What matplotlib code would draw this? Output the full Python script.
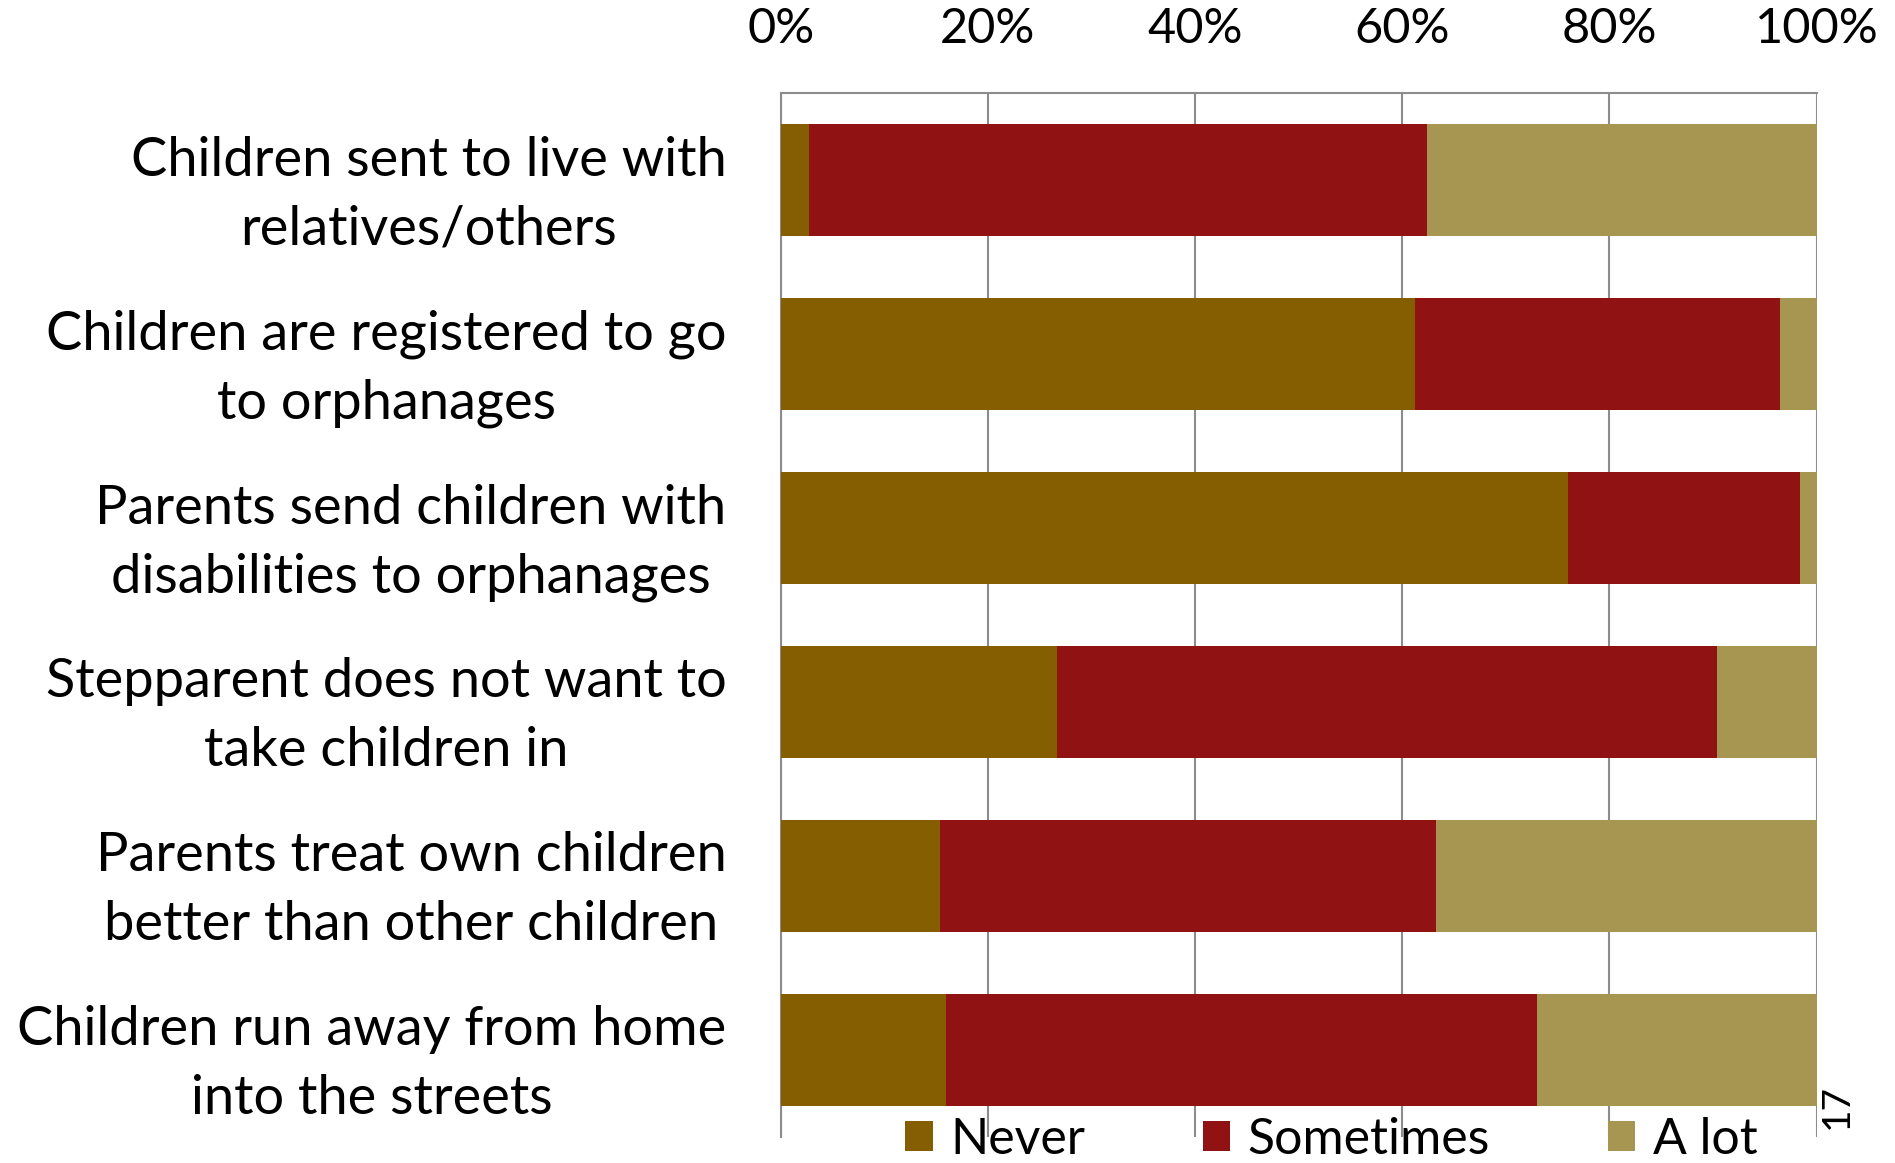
import numpy as np
import matplotlib.pyplot as plt

plt.rcParams['font.family'] = ['Lato', 'DejaVu Sans']

# 各项问题的回答比例 (%)
categories = [
    'Children sent to live with\nrelatives/others',
    'Children are registered to go\nto orphanages',
    'Parents send children with\ndisabilities to orphanages',
    'Stepparent does not want to\ntake children in',
    'Parents treat own children\nbetter than other children',
    'Children run away from home\ninto the streets',
]
never = [2.7, 61.2, 76.0, 26.7, 15.4, 16.0]
sometimes = [59.7, 35.3, 22.4, 63.7, 47.9, 57.0]
a_lot = [37.6, 3.5, 1.6, 9.6, 36.7, 27.0]
series_names = ['Never', 'Sometimes', 'A lot']
colors = ['#845E00', '#911213', '#A79552']
xticks = [0, 20, 40, 60, 80, 100]
page_no = '17'

fig = plt.figure(figsize=(18.95, 11.63), dpi=100)
ax = fig.add_axes([0.412, 0.0224, 0.5466, 0.8976])

y = np.arange(len(categories))
left = np.zeros(len(categories))
for vals, name, c in zip([never, sometimes, a_lot], series_names, colors):
    ax.barh(y, vals, left=left, height=0.646, color=c, label=name, zorder=3)
    left += np.array(vals)

ax.set_xlim(0, 100)
ax.set_ylim(len(categories) - 0.5, -0.5)

# 刻度放在上方
ax.xaxis.tick_top()
ax.set_xticks(xticks)
ax.set_xticklabels([f'{v}%' for v in xticks], fontsize=35)
ax.tick_params(axis='x', length=0, pad=30)
ax.set_yticks(y)
ax.set_yticklabels(categories, fontsize=39, linespacing=1.5)
ax.tick_params(axis='y', length=0, pad=39)
for t in ax.get_yticklabels():
    t.set_multialignment('center')

ax.grid(axis='x', color='#8c8c8c', linewidth=1.5, zorder=0)
for s in ['right', 'bottom']:
    ax.spines[s].set_visible(False)
for s in ['top', 'left']:
    ax.spines[s].set_color('#8c8c8c')
    ax.spines[s].set_linewidth(1.5)

ax.legend(loc='center', bbox_to_anchor=(0.7025, 0.02), bbox_transform=fig.transFigure,
          ncol=3, frameon=False, fontsize=36, handlelength=0.55, handleheight=0.55,
          handletextpad=0.35, columnspacing=2.35)

fig.text(0.9694, 0.049, page_no, rotation=90, fontsize=28, ha='center', va='center')

plt.savefig('out.png', dpi=100)
